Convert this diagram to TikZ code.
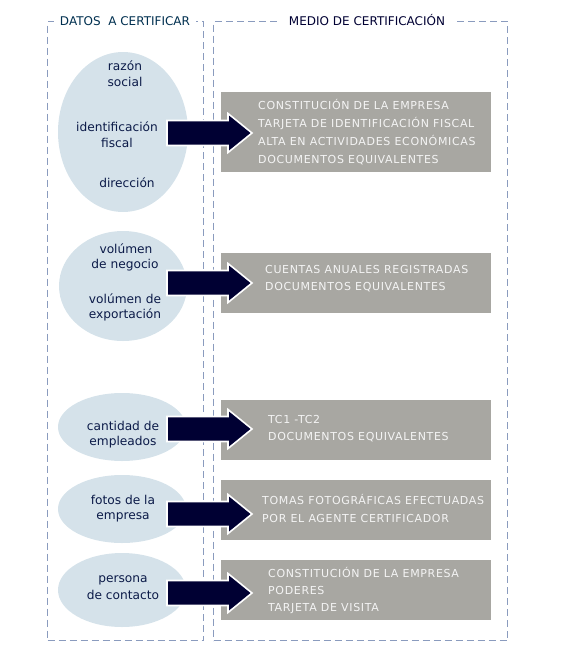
\documentclass[tikz,border=0pt]{standalone}
\usepackage{fontspec}
\setmainfont{DejaVu Sans}
\newfontfamily\boxfont[LetterSpace=6]{DejaVu Sans}
\definecolor{dashc}{HTML}{8A9BBE}
\definecolor{ellc}{HTML}{D5E2EA}
\definecolor{boxc}{HTML}{A8A7A2}
\definecolor{arrc}{HTML}{000033}
\definecolor{elltxt}{HTML}{0B1A48}
\definecolor{hdrA}{HTML}{003050}
\definecolor{hdrB}{HTML}{000033}
\definecolor{boxtxt}{HTML}{F4F4F4}
\tikzset{
  panel/.style={draw=dashc, line width=1pt, dash pattern=on 7pt off 4pt, inner sep=0pt, anchor=north west},
  hdr/.style={fill=white, inner xsep=6pt, inner ysep=2pt, font=\fontsize{12}{14}\selectfont},
  ell/.style={ellipse, fill=ellc, inner sep=0pt},
  etxt/.style={text=elltxt, font=\fontsize{12.2}{14}\selectfont, inner sep=0pt},
  gbox/.style={fill=boxc, inner sep=0pt, anchor=north west, minimum width=270pt},
  btxt/.style={text=boxtxt, font=\boxfont\fontsize{11}{18}\selectfont, inner sep=0pt, anchor=west, align=left},
  btxtb/.style={btxt, font=\boxfont\fontsize{11}{17}\selectfont},
  arrowstyle/.style={fill=arrc, draw=white, line width=1.6pt, line join=miter},
  bigarrow/.pic={\draw[arrowstyle] (0,-12.5) -- (61,-12.5) -- (61,-19.5) -- (85,0) -- (61,19.5) -- (61,12.5) -- (0,12.5) -- cycle;}
}
\usetikzlibrary{shapes.geometric}
\begin{document}
\begin{tikzpicture}[x=1pt,y=-1pt]
\useasboundingbox (0,0) rectangle (580,670);
% panels
\node[panel, minimum width=156pt, minimum height=619pt] (lp) at (47,21) {};
\node[panel, minimum width=294pt, minimum height=619pt] (rp) at (213,21) {};
\node[hdr, text=hdrA] (hl) at (125,21) {DATOS\ \ A CERTIFICAR};
\node[hdr, text=hdrB, inner xsep=10pt] (hr) at (367,20) {MEDIO DE CERTIFICACIÓN};
% ellipses
\node[ell, minimum width=130pt, minimum height=160pt] (e1) at (123,132) {};
\node[ell, minimum width=128pt, minimum height=110pt] (e2) at (123,286) {};
\node[ell, minimum width=128pt, minimum height=68pt] (e3) at (122,427) {};
\node[ell, minimum width=128pt, minimum height=68pt] (e4) at (122,509) {};
\node[ell, minimum width=128pt, minimum height=74pt] (e5) at (122,590) {};
% ellipse texts
\node[etxt] (t1a) at (125,66) {razón};
\node[etxt] (t1b) at (125,82) {social};
\node[etxt] (t1c) at (117,127) {identificación};
\node[etxt] (t1d) at (117,143) {fiscal};
\node[etxt] (t1e) at (127,183) {dirección};
\node[etxt] (t2a) at (126,249) {volúmen};
\node[etxt] (t2b) at (125,265) {de negocio};
\node[etxt] (t2c) at (125,299) {volúmen de};
\node[etxt] (t2d) at (125,315) {exportación};
\node[etxt] (t3a) at (123,426) {cantidad de};
\node[etxt] (t3b) at (123,442) {empleados};
\node[etxt] (t4a) at (123,500) {fotos de la};
\node[etxt] (t4b) at (123,517) {empresa};
\node[etxt] (t5a) at (123,580) {persona};
\node[etxt] (t5b) at (123,595) {de contacto};
% gray boxes
\node[gbox, minimum height=80pt] (b1) at (221,92) {};
\node[gbox, minimum height=60pt] (b2) at (221,253) {};
\node[gbox, minimum height=60pt] (b3) at (221,400) {};
\node[gbox, minimum height=60pt] (b4) at (221,480) {};
\node[gbox, minimum height=60pt] (b5) at (221,560) {};
% box texts
\node[btxt] (x1) at (258,132) {CONSTITUCIÓN DE LA EMPRESA\\TARJETA DE IDENTIFICACIÓN FISCAL\\ALTA EN ACTIVIDADES ECONÓMICAS\\DOCUMENTOS EQUIVALENTES};
\node[btxtb] (x2) at (265,279) {CUENTAS ANUALES REGISTRADAS\\DOCUMENTOS EQUIVALENTES};
\node[btxtb] (x3) at (268,429) {TC1 -TC2\\DOCUMENTOS EQUIVALENTES};
\node[btxt] (x4) at (262,508) {TOMAS FOTOGRÁFICAS EFECTUADAS\\POR EL AGENTE CERTIFICADOR};
\node[btxtb] (x5) at (268,590) {CONSTITUCIÓN DE LA EMPRESA\\PODERES\\TARJETA DE VISITA};
% arrows
\pic (a1) at (167,133) {bigarrow};
\pic (a2) at (167,283) {bigarrow};
\pic (a3) at (167,429) {bigarrow};
\pic (a4) at (167,514) {bigarrow};
\pic (a5) at (167,593) {bigarrow};
\end{tikzpicture}
\end{document}
